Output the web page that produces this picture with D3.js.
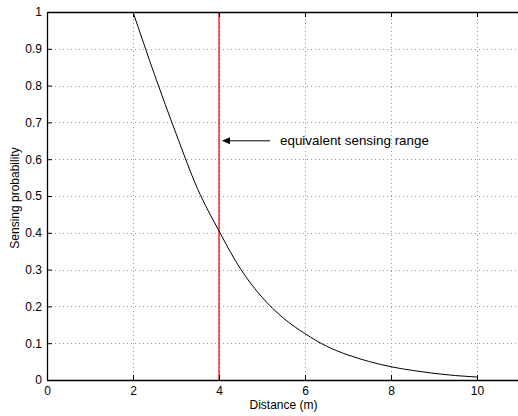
<!DOCTYPE html>
<html>
<head>
<meta charset="utf-8">
<script src="https://cdn.jsdelivr.net/npm/d3@7"></script>
<style>
  body { margin: 0; background: #fff; }
  svg { display: block; font-family: "Liberation Sans", Arial, sans-serif; }
</style>
</head>
<body>
<div id="main"></div>
<script>
// values
var distance = [2, 2.5, 3, 3.5, 4, 4.5, 5, 5.5, 6, 6.5, 7, 7.5, 8, 8.5, 9, 9.5, 10];
var probability = [1, 0.83, 0.67, 0.52, 0.405, 0.302, 0.225, 0.168, 0.126, 0.092, 0.068, 0.05, 0.036, 0.026, 0.018, 0.012, 0.008];
var xTicks = [0, 2, 4, 6, 8, 10];
var yTicks = [0, 0.1, 0.2, 0.3, 0.4, 0.5, 0.6, 0.7, 0.8, 0.9, 1];
var rangeX = 4;
var note = "equivalent sensing range";

var W = 518, H = 416;
var margin = { left: 47, top: 12, right: -2, bottom: 36 };

var svg = d3.select('#main').append('svg').attr('width', W).attr('height', H);

var x = d3.scaleLinear().domain([0, 11]).range([margin.left, W - margin.right]);
var y = d3.scaleLinear().domain([0, 1]).range([H - margin.bottom, margin.top]);

var tickLen = 5;

// grid
var grid = svg.append('g').attr('stroke', '#999').attr('stroke-width', 1).attr('stroke-dasharray', '1,3');
grid.selectAll('.gx').data(xTicks.slice(1)).enter().append('line')
  .attr('x1', function(d) { return Math.round(x(d)) + 0.5; })
  .attr('x2', function(d) { return Math.round(x(d)) + 0.5; })
  .attr('y1', y(0)).attr('y2', y(1));
grid.selectAll('.gy').data(yTicks.slice(1, -1)).enter().append('line')
  .attr('y1', function(d) { return Math.round(y(d)) + 0.5; })
  .attr('y2', function(d) { return Math.round(y(d)) + 0.5; })
  .attr('x1', x(0)).attr('x2', x(11));

// red vertical line
svg.append('line')
  .attr('x1', x(rangeX)).attr('x2', x(rangeX))
  .attr('y1', y(0)).attr('y2', y(1))
  .attr('stroke', '#e00000').attr('stroke-width', 1.2);

// curve
var pts = distance.map(function(d, i) { return [d, probability[i]]; });
svg.append('path')
  .datum(pts)
  .attr('fill', 'none').attr('stroke', '#000').attr('stroke-width', 1)
  .attr('d', d3.line().x(function(d) { return x(d[0]); }).y(function(d) { return y(d[1]); }).curve(d3.curveMonotoneX));

// axes
var xAxis = d3.axisBottom(x).tickValues(xTicks).tickSizeInner(-tickLen).tickSizeOuter(0).tickPadding(6);
var gx = svg.append('g').attr('transform', 'translate(0,' + y(0) + ')').call(xAxis);
var xTop = d3.axisTop(x).tickValues(xTicks).tickSizeInner(-tickLen).tickSizeOuter(0).tickFormat('');
var gxt = svg.append('g').attr('transform', 'translate(0,' + y(1) + ')').call(xTop);
var yAxis = d3.axisLeft(y).tickValues(yTicks).tickSizeInner(-tickLen).tickSizeOuter(0).tickPadding(5).tickFormat(function(d) { return d3.format('~g')(d); });
var gy = svg.append('g').attr('transform', 'translate(' + x(0) + ',0)').call(yAxis);

[gx, gxt, gy].forEach(function(g) {
  g.select('.domain').attr('stroke', '#000').attr('stroke-width', 1.3);
  g.selectAll('.tick line').attr('stroke', '#000');
  g.selectAll('.tick text').attr('font-size', 12).attr('fill', '#000').attr('font-family', '"Liberation Sans", Arial, sans-serif');
});

// labels
svg.append('text').attr('x', (x(0) + x(11)) / 2).attr('y', 409)
  .attr('text-anchor', 'middle').attr('font-size', 12).text('Distance (m)');
svg.append('text')
  .attr('transform', 'translate(19,198) rotate(-90)')
  .attr('text-anchor', 'middle').attr('font-size', 12).text('Sensing probability');

// arrow annotation
var ay = y(0.65);
svg.append('line').attr('x1', x(rangeX) + 51).attr('x2', x(rangeX) + 10)
  .attr('y1', ay).attr('y2', ay).attr('stroke', '#000').attr('stroke-width', 1);
svg.append('path')
  .attr('d', d3.line()([[x(rangeX) + 3, ay], [x(rangeX) + 11, ay - 3.5], [x(rangeX) + 11, ay + 3.5]]) + 'Z')
  .attr('fill', '#000');
svg.append('text').attr('x', x(rangeX) + 61).attr('y', ay + 4.5)
  .attr('font-size', 13.4).text(note);
</script>
</body>
</html>
